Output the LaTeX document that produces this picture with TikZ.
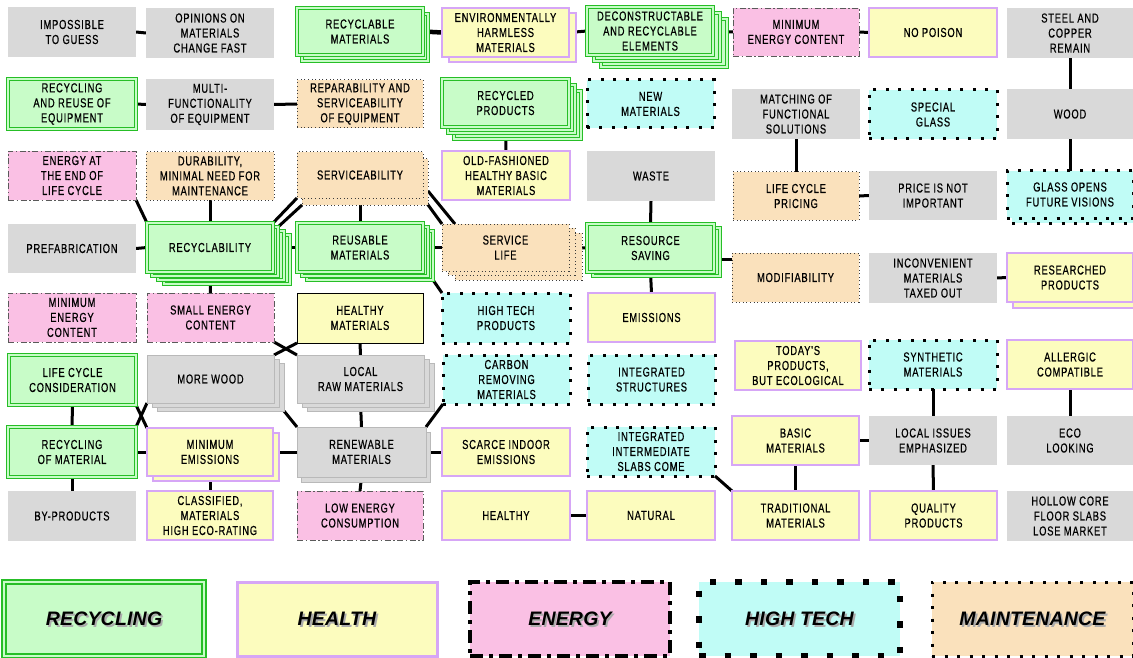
\documentclass[tikz,border=0pt]{standalone}
\usepackage{fontspec}
\setmainfont{Liberation Sans}
\newfontfamily\lab[FakeStretch=0.72,LetterSpace=6,FakeBold=0.5]{Liberation Sans}
\newfontfamily\legf[LetterSpace=1]{Liberation Sans}
\usetikzlibrary{calc}
\pgfdeclarelayer{bg}
\pgfsetlayers{bg,main}
\definecolor{grn}{RGB}{200,252,200}
\definecolor{grnb}{RGB}{38,190,38}
\definecolor{yel}{RGB}{252,252,190}
\definecolor{lav}{RGB}{214,166,246}
\definecolor{pnk}{RGB}{250,192,228}
\definecolor{cyn}{RGB}{192,252,246}
\definecolor{pch}{RGB}{250,225,188}
\definecolor{gry}{RGB}{217,217,217}
\definecolor{dkg}{RGB}{60,60,60}
\definecolor{mdg}{RGB}{90,90,90}
\newcommand\bx[7]{\node[nbox,#2,minimum width={(#5)-(#3)},minimum height={(#6)-(#4)}] (#1) at ({((#3)+(#5))/2},{((#4)+(#6))/2}) {#7};}
\newcommand\cp[8]{\node[nbox,#2,minimum width={(#5)-(#3)},minimum height={(#6)-(#4)}] (#1) at ({((#3)+(#5))/2+(#7)},{((#4)+(#6))/2+(#8)}) {};}
\newcommand\lgd[7]{\bx{#1}{#2}{#3}{#4}{#5}{#6}{}\node[legtxt,text=gray!65] (#1s) at ($(#1.center)+(1.8,1.8)$) {#7};\node[legtxt] (#1t) at (#1.center) {#7};}
\begin{document}
\begin{tikzpicture}[x=1pt,y=-1pt,
  nbox/.style={rectangle,inner sep=0pt,outer sep=0pt,align=center,font=\lab\fontsize{13}{15}\selectfont,text=black},
  recy/.style={fill=grn,draw=grnb,line width=1.2pt,double=grn,double distance=1.5pt},
  heal/.style={fill=yel,draw=lav,line width=1.6pt},
  healk/.style={fill=yel,draw=black,line width=1pt},
  ener/.style={fill=pnk,draw=mdg,line width=0.9pt,dash pattern=on 6pt off 2.5pt on 1.5pt off 2.5pt},
  tech/.style={fill=cyn,draw=black,line width=3pt,dash pattern=on 3pt off 9.4pt},
  mnt/.style={fill=pch,draw=dkg,line width=1pt,dash pattern=on 1pt off 2.6pt},
  grybox/.style={fill=gry},
  grys/.style={fill=gry,draw=gray!55,line width=0.8pt},
  lrecy/.style={line width=1.7pt,double distance=2pt},
  lheal/.style={line width=3pt},
  lener/.style={draw=black,line width=4pt,dash pattern=on 13pt off 6pt on 4pt off 6pt},
  ltech/.style={line width=6.5pt,dash pattern=on 6.5pt off 19pt},
  lmnt/.style={draw=black,line width=3pt,dash pattern=on 3pt off 9.5pt},
  legtxt/.style={font=\legf\bfseries\itshape\fontsize{19.5}{22}\selectfont,inner sep=0pt},
  conn/.style={line width=3pt,draw=black}]
\useasboundingbox (0,0) rectangle (1133,658);
% Row 1
\bx{A1}{grybox}{8}{7}{136}{57}{IMPOSSIBLE\\TO GUESS}
\bx{A2}{grybox}{146}{8}{274}{58}{OPINIONS ON\\MATERIALS\\CHANGE FAST}
\cp{A3c1}{recy}{297}{8}{423}{55}{5}{6}
\bx{A3}{recy}{297}{8}{423}{55}{RECYCLABLE\\MATERIALS}
\cp{A4c1}{heal}{442}{8}{569}{57}{7}{5}
\bx{A4}{heal}{442}{8}{569}{57}{ENVIRONMENTALLY\\HARMLESS\\MATERIALS}
\cp{A5c2}{recy}{587}{7}{713}{55}{14}{12}
\cp{A5c1}{recy}{587}{7}{713}{55}{7}{6}
\bx{A5}{recy}{587}{7}{713}{55}{DECONSTRUCTABLE\\AND RECYCLABLE\\ELEMENTS}
\bx{A6}{ener}{733}{8}{859}{56}{MINIMUM\\ENERGY CONTENT}
\bx{A7}{heal}{869}{8}{997}{57}{NO POISON}
\bx{A8}{grybox}{1007}{8}{1133}{58}{STEEL AND\\COPPER\\REMAIN}
% Row 2
\bx{B1}{recy}{8}{79}{136}{129}{RECYCLING\\AND REUSE OF\\EQUIPMENT}
\bx{B2}{grybox}{146}{79}{274}{130}{MULTI-\\FUNCTIONALITY\\OF EQUIPMENT}
\bx{B3}{mnt}{297}{80}{423}{128}{REPARABILITY AND\\SERVICEABILITY\\OF EQUIPMENT}
\cp{B4c2}{recy}{442}{79}{569}{127}{12}{12}
\cp{B4c1}{recy}{442}{79}{569}{127}{6}{6}
\bx{B4}{recy}{442}{79}{569}{127}{RECYCLED\\PRODUCTS}
\bx{B5}{tech}{587}{80}{714}{128}{NEW\\MATERIALS}
\bx{B6}{grybox}{732}{89}{860}{139}{MATCHING OF\\FUNCTIONAL\\SOLUTIONS}
\bx{B7}{tech}{869}{90}{997}{139}{SPECIAL\\GLASS}
\bx{B8}{grybox}{1007}{89}{1133}{139}{WOOD}
% Row 3
\bx{C1}{ener}{8}{151}{136}{200}{ENERGY AT\\THE END OF\\LIFE CYCLE}
\bx{C2}{mnt}{146}{152}{274}{200}{DURABILITY,\\MINIMAL NEED FOR\\MAINTENANCE}
\cp{C3c1}{mnt}{297}{152}{423}{198}{5}{7}
\bx{C3}{mnt}{297}{152}{423}{198}{SERVICEABILITY}
\bx{C4}{heal}{442}{151}{570}{200}{OLD-FASHIONED\\HEALTHY BASIC\\MATERIALS}
\bx{C5}{grybox}{587}{151}{715}{201}{WASTE}
\bx{C6}{mnt}{733}{172}{859}{220}{LIFE CYCLE\\PRICING}
\bx{C7}{grybox}{869}{171}{997}{220}{PRICE IS NOT\\IMPORTANT}
\cp{C8c1}{tech}{1007}{171}{1133}{218}{5}{5}
\bx{C8}{tech}{1007}{171}{1133}{218}{GLASS OPENS\\FUTURE VISIONS}
% Row 4
\bx{D1}{grybox}{8}{224}{136}{273}{PREFABRICATION}
\cp{D2c3}{recy}{147}{223}{273}{272}{17}{12}
\cp{D2c2}{recy}{147}{223}{273}{272}{11}{8}
\cp{D2c1}{recy}{147}{223}{273}{272}{5}{4}
\bx{D2}{recy}{147}{223}{273}{272}{RECYCLABILITY}
\cp{D3c2}{recy}{297}{223}{423}{272}{10}{8}
\cp{D3c1}{recy}{297}{223}{423}{272}{5}{4}
\bx{D3}{recy}{297}{223}{423}{272}{REUSABLE\\MATERIALS}
\cp{D4c2}{mnt}{442}{224}{569}{271}{13}{9}
\cp{D4c1}{mnt}{442}{224}{569}{271}{6}{4}
\bx{D4}{mnt}{442}{224}{569}{271}{SERVICE\\LIFE}
\cp{D5c1}{recy}{587}{224}{714}{272}{6}{4}
\bx{D5}{recy}{587}{224}{714}{272}{RESOURCE\\SAVING}
\bx{D6}{mnt}{732}{253}{859}{302}{MODIFIABILITY}
\bx{D7}{grybox}{869}{253}{997}{303}{INCONVENIENT\\MATERIALS\\TAXED OUT}
\cp{D8c1}{heal}{1007}{253}{1133}{302}{6}{6}
\bx{D8}{heal}{1007}{253}{1133}{302}{RESEARCHED\\PRODUCTS}
% Row 5
\bx{E1}{ener}{8}{293}{136}{342}{MINIMUM\\ENERGY\\CONTENT}
\bx{E2}{ener}{147}{293}{274}{342}{SMALL ENERGY\\CONTENT}
\bx{E3}{healk}{297}{293}{423}{343}{HEALTHY\\MATERIALS}
\bx{E4}{tech}{442}{293}{570}{343}{HIGH TECH\\PRODUCTS}
\bx{E5}{heal}{588}{293}{715}{342}{EMISSIONS}
% Row 6
\bx{F1}{recy}{9}{355}{136}{405}{LIFE CYCLE\\CONSIDERATION}
\cp{F2c2}{grys}{147}{355}{274}{403}{10}{8}
\cp{F2c1}{grys}{147}{355}{274}{403}{5}{4}
\bx{F2}{grys}{147}{355}{274}{403}{MORE WOOD}
\cp{F3c2}{grys}{297}{355}{424}{403}{10}{8}
\cp{F3c1}{grys}{297}{355}{424}{403}{5}{4}
\bx{F3}{grys}{297}{355}{424}{403}{LOCAL\\RAW MATERIALS}
\bx{F4}{tech}{443}{355}{570}{404}{CARBON\\REMOVING\\MATERIALS}
\bx{F5}{tech}{588}{355}{715}{404}{INTEGRATED\\STRUCTURES}
\bx{F6}{heal}{735}{341}{861}{390}{TODAY'S\\PRODUCTS,\\BUT ECOLOGICAL}
\bx{F7}{tech}{869}{340}{997}{389}{SYNTHETIC\\MATERIALS}
\bx{F8}{heal}{1007}{340}{1133}{389}{ALLERGIC\\COMPATIBLE}
% Row 7
\bx{G1}{recy}{8}{427}{136}{477}{RECYCLING\\OF MATERIAL}
\cp{G2c1}{heal}{147}{428}{273}{476}{6}{5}
\bx{G2}{heal}{147}{428}{273}{476}{MINIMUM\\EMISSIONS}
\cp{G3c1}{grys}{297}{427}{426}{477}{4}{5}
\bx{G3}{grys}{297}{427}{426}{477}{RENEWABLE\\MATERIALS}
\bx{G4}{heal}{442}{428}{570}{476}{SCARCE INDOOR\\EMISSIONS}
\bx{G5}{tech}{587}{427}{715}{476}{INTEGRATED\\INTERMEDIATE\\SLABS COME}
\bx{G6}{heal}{732}{416}{859}{465}{BASIC\\MATERIALS}
\bx{G7}{grybox}{869}{416}{997}{465}{LOCAL ISSUES\\EMPHASIZED}
\bx{G8}{grybox}{1007}{416}{1133}{465}{ECO\\LOOKING}
% Row 8
\bx{H1}{grybox}{8}{491}{136}{541}{BY-PRODUCTS}
\bx{H2}{heal}{147}{491}{273}{540}{CLASSIFIED,\\MATERIALS\\HIGH ECO-RATING}
\bx{H3}{ener}{297}{491}{423}{540}{LOW ENERGY\\CONSUMPTION}
\bx{H4}{heal}{442}{491}{570}{540}{HEALTHY}
\bx{H5}{heal}{587}{491}{715}{540}{NATURAL}
\bx{H6}{heal}{732}{491}{859}{540}{TRADITIONAL\\MATERIALS}
\bx{H7}{heal}{870}{491}{997}{540}{QUALITY\\PRODUCTS}
\bx{H8}{grybox}{1007}{491}{1133}{541}{HOLLOW CORE\\FLOOR SLABS\\LOSE MARKET}
% Legend
\lgd{L1}{recy,lrecy}{4}{582}{204}{656}{RECYCLING}
\lgd{L2}{heal,lheal}{237}{582}{437}{656}{HEALTH}
\lgd{L3}{ener,lener}{470}{582}{670}{656}{ENERGY}
\lgd{L4}{tech,ltech}{699}{582}{900}{656}{HIGH TECH}
\lgd{L5}{mnt,lmnt}{932}{582}{1133}{656}{MAINTENANCE}
% Connectors
\begin{pgfonlayer}{bg}
\draw[conn] (A1.east) -- (A2.west);
\draw[conn,line width=4.5pt] (A3.east) -- (A4.west);
\draw[conn] (A4.east) -- (A5.west);
\draw[conn] (A5.east) -- (A6.west);
\draw[conn] (A6.east) -- (A7.west);
\draw[conn] (A8.south) -- (B8.north);
\draw[conn] (B1.east) -- (B2.west);
\draw[conn] (B2.east) -- (B3.west);
\draw[conn] (B4.south) -- (C4.north);
\draw[conn] (B6.south) -- (C6.north);
\draw[conn] (B8.south) -- (C8.north);
\draw[conn] (C6.east) -- (C7.west);
\draw[conn] (C1.south east) -- (D2.north west);
\draw[conn] (C2.south) -- (D2.north);
\draw[conn] (C3.south west) -- (D2.north east);
\draw[conn] (C3c1.south west) -- (D2c1.north east);
\draw[conn] (C3.south) -- (D3.north);
\draw[conn] (C3.south east) -- (D4.north west);
\coordinate (c3a) at ($(C3.south east)+(5,-7)$);
\coordinate (d4a) at ($(D4.north west)+(13,0)$);
\draw[conn] (c3a) -- (d4a);
\draw[conn] (D1.east) -- (D2.west);
\draw[conn] (D2.east) -- (D3.west);
\draw[conn] (D3.east) -- (D4.west);
\draw[conn] (D4.east) -- (D5.west);
\coordinate (d56) at ($(D5.east)+(0,11)$);
\draw[conn] (d56) -- (d56 -| D6.west);
\draw[conn] (C5.south) -- (D5.north);
\draw[conn] (D5.south) -- (E5.north);
\draw[conn] (D2.south) -- (E2.north);
\draw[conn] (D3c2.south east) -- (E4.north west);
\draw[conn] (D7.east) -- (D8.west);
\draw[conn] (E3.south) -- (F3.north);
\draw[conn] (E2.south east) -- (F3.north west);
\draw[conn] (E3.south west) -- (F2.north east);
\draw[conn] (F1.south) -- (G1.north);
\draw[conn] (F1.south east) -- (G2.north west);
\draw[conn] (F2.south west) -- (G1.north east);
\draw[conn] (F2c2.south east) -- (G3.north west);
\draw[conn] (F3.south) -- (G3.north);
\draw[conn] (F4.south west) -- (G3.north east);
\draw[conn] (G1.east) -- (G2.west);
\draw[conn] (G2.east) -- (G3.west);
\draw[conn] (G3.east) -- (G4.west);
\draw[conn] (G1.south) -- (H1.north);
\draw[conn] (G2.south) -- (H2.north);
\draw[conn] (G3.south) -- (H3.north);
\draw[conn] (H4.east) -- (H5.west);
\draw[conn] (G5.south east) -- (H6.north west);
\draw[conn] (G6.south) -- (H6.north);
\draw[conn] (G6.east) -- (G7.west);
\draw[conn] (F7.south) -- (G7.north);
\draw[conn] (G7.south) -- (H7.north);
\draw[conn] (F8.south) -- (G8.north);
\end{pgfonlayer}
\end{tikzpicture}
\end{document}
